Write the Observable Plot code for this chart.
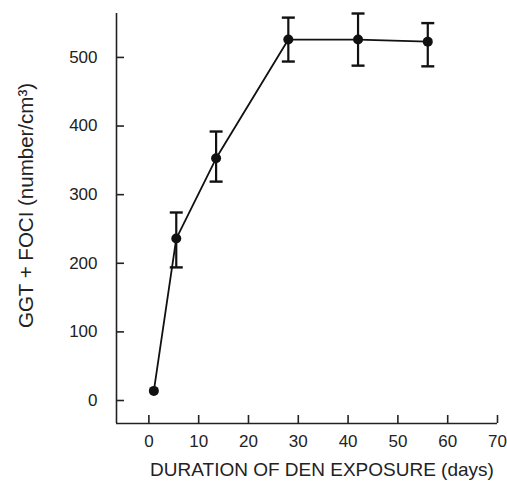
<!DOCTYPE html>
<html>
<head>
<meta charset="utf-8">
<script src="https://cdn.jsdelivr.net/npm/d3@7"></script>
<script src="https://cdn.jsdelivr.net/npm/@observablehq/plot@0.6"></script>
<style>
  html, body { margin: 0; padding: 0; background: #fff; }
  svg { display: block; }
</style>
</head>
<body>
<div id="chart"></div>
<script>
// Data
const days  = [1, 5.5, 13.5, 28, 42, 56];
const foci  = [14, 236, 353, 526, 526, 523];
const errHi = [null, 274, 392, 558, 564, 550];
const errLo = [null, 194, 319, 494, 488, 487];

const xTicks = [0, 10, 20, 30, 40, 50, 60, 70];
const yTicks = [0, 100, 200, 300, 400, 500];
const xDomain = [-6.5, 70];
const yDomain = [-33.5, 564];

const xTitle = "DURATION OF DEN EXPOSURE (days)";
const yTitle = "GGT + FOCI (number/cm³)";

const rows = days.map((d, i) => ({day: d, value: foci[i], hi: errHi[i], lo: errLo[i]}));
const errRows = rows.filter(r => r.hi != null);

const cap = {draw(ctx, size) { const w = 6.5; ctx.moveTo(-w, 0); ctx.lineTo(w, 0); }};

const chart = Plot.plot({
  width: 507,
  height: 484,
  marginLeft: 116,
  marginRight: 10,
  marginTop: 13,
  marginBottom: 61,
  style: {fontFamily: "'Liberation Sans', Arial, Helvetica, sans-serif", fontSize: "17px", color: "#222", background: "#fff"},
  x: {domain: xDomain},
  y: {domain: yDomain},
  marks: [
    Plot.ruleX([xDomain[0]], {stroke: "#222", strokeWidth: 1.6}),
    Plot.ruleY([yDomain[0]], {stroke: "#222", strokeWidth: 1.6}),
    Plot.axisX({ticks: xTicks, tickSize: -8, text: null, label: null, stroke: "#222", strokeWidth: 1.6}),
    Plot.axisX({ticks: xTicks, tickSize: 0, tickPadding: 11, label: null, fontSize: 17}),
    Plot.axisY({ticks: yTicks, tickSize: -8, text: null, label: null, stroke: "#222", strokeWidth: 1.6}),
    Plot.axisY({ticks: yTicks, tickSize: 0, tickPadding: 19, label: null, fontSize: 17}),
    Plot.text([xTitle], {frameAnchor: "bottom", textAnchor: "middle", dy: 52, dx: 15, fontSize: 19, fill: "#222"}),
    Plot.text([yTitle], {frameAnchor: "left", textAnchor: "middle", rotate: -90, dx: -90, dy: -13, fontSize: 20.5, fill: "#222"}),
    Plot.line(rows, {x: "day", y: "value", stroke: "#111", strokeWidth: 1.8}),
    Plot.ruleX(errRows, {x: "day", y1: "lo", y2: "hi", stroke: "#111", strokeWidth: 2.2}),
    Plot.dot(errRows, {x: "day", y: "hi", symbol: cap, stroke: "#111", strokeWidth: 2.4}),
    Plot.dot(errRows, {x: "day", y: "lo", symbol: cap, stroke: "#111", strokeWidth: 2.4}),
    Plot.dot(rows, {x: "day", y: "value", r: 5, fill: "#111"})
  ]
});
document.getElementById("chart").appendChild(chart);
</script>
</body>
</html>
